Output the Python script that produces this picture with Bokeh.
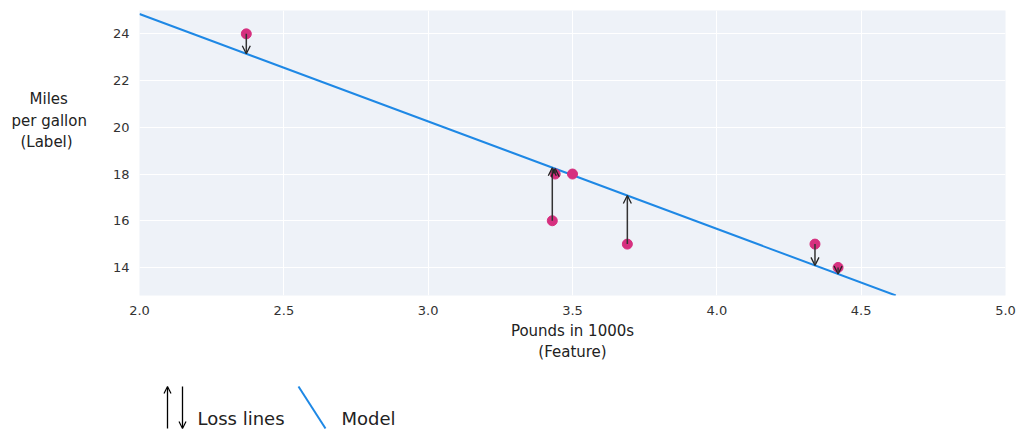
from bokeh.plotting import figure
from bokeh.models import Range1d, FixedTicker, Label, Arrow, OpenHead, ColumnDataSource, NumeralTickFormatter
from bokeh.layouts import column
from bokeh.embed import file_html
from bokeh.resources import INLINE

# Data
pounds = [2.37, 3.43, 3.44, 3.50, 3.69, 4.34, 4.42]
mpg = [24, 16, 18, 18, 15, 15, 14]
predicted = [23.15, 18.27, 18.23, 17.95, 17.08, 14.09, 13.72]
model_x = [2.0, 4.62]
model_y = [24.85, 12.8]
x_ticks = [2.0, 2.5, 3.0, 3.5, 4.0, 4.5, 5.0]
y_ticks = [14, 16, 18, 20, 22, 24]

FONT = "DejaVu Sans"
BG = "#eef2f8"
NB = "\u00a0"

p = figure(width=1016, height=366, output_backend="svg", toolbar_location=None,
           x_range=Range1d(2, 5), y_range=Range1d(12.8, 25),
           min_border_left=139, min_border_right=11, min_border_top=10, min_border_bottom=71)
p.background_fill_color = BG
p.border_fill_color = "white"
p.outline_line_color = None
p.grid.grid_line_color = "white"
p.grid.grid_line_width = 1
p.xaxis.ticker = FixedTicker(ticks=x_ticks)
p.yaxis.ticker = FixedTicker(ticks=y_ticks)
p.xaxis.formatter = NumeralTickFormatter(format="0.0")
for ax in (p.xaxis, p.yaxis):
    ax.axis_line_color = None
    ax.major_tick_line_color = None
    ax.minor_tick_line_color = None
    ax.major_tick_out = 0
    ax.major_tick_in = 0
    ax.major_label_text_font = FONT
    ax.major_label_text_font_size = "13px"
    ax.major_label_text_color = "#333333"
    ax.major_label_standoff = 10
    ax.axis_label_text_font = FONT
    ax.axis_label_text_font_size = "15px"
    ax.axis_label_text_font_style = "normal"
    ax.axis_label_text_color = "#222222"
p.xaxis.axis_label = "Pounds in 1000s\n(Feature)"
p.xaxis.axis_label_standoff = 4

p.yaxis.axis_label = "Miles" + NB * 4 + "\nper gallon\n(Label)" + NB * 3 + "\n \n \n "
p.yaxis.axis_label_standoff = 23
p.yaxis.axis_label_orientation = "horizontal"

p.line(model_x, model_y, line_color="#1e88e5", line_width=2)
p.scatter(pounds, mpg, size=10, fill_color="#d6307f", line_color="#d6307f")

sel = [i for i in range(len(pounds)) if abs(predicted[i] - mpg[i]) > 0.1]
src = ColumnDataSource(dict(x0=[pounds[i] for i in sel], y0=[mpg[i] for i in sel],
                            x1=[pounds[i] for i in sel], y1=[predicted[i] for i in sel]))
p.add_layout(Arrow(end=OpenHead(size=8, line_width=1.3, line_color="#222222"),
                   x_start="x0", y_start="y0", x_end="x1", y_end="y1", source=src,
                   line_color="#333333", line_width=1.5))

# Legend figure: its frame is aligned with the main frame; data units = page pixels
lg = figure(width=1016, height=66, output_backend="svg", toolbar_location=None,
            x_range=Range1d(139, 1005), y_range=Range1d(432, 366),
            min_border_left=139, min_border_right=11, min_border_top=0, min_border_bottom=0,
            x_axis_location=None, y_axis_location=None)
lg.grid.visible = False
lg.outline_line_color = None
lg.add_layout(Arrow(end=OpenHead(size=7, line_width=1.2), x_start=167, y_start=428, x_end=167, y_end=386,
                    line_width=1.3))
lg.add_layout(Arrow(end=OpenHead(size=7, line_width=1.2), x_start=182, y_start=386, x_end=182, y_end=428,
                    line_width=1.3))
lg.line([298, 325], [386, 428], line_color="#1e88e5", line_width=2)
lg.add_layout(Label(x=197, y=418, text="Loss lines", text_font=FONT, text_font_size="18px",
                    text_color="#222222", text_baseline="middle"))
lg.add_layout(Label(x=341, y=418, text="Model", text_font=FONT, text_font_size="18px",
                    text_color="#222222", text_baseline="middle"))

layout = column(p, lg, spacing=0)
open("out.html", "w").write(file_html(layout, INLINE))
